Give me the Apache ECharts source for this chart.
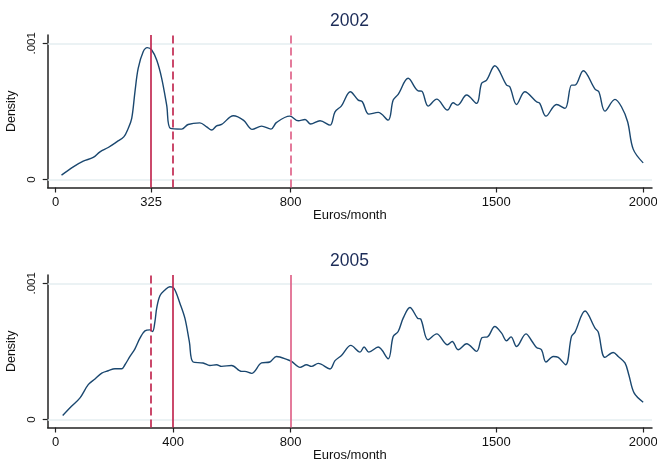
<!DOCTYPE html>
<html>
<head>
<meta charset="utf-8">
<script src="https://cdn.jsdelivr.net/npm/echarts@6/dist/echarts.min.js"></script>
<style>
html,body{margin:0;padding:0;background:#fff;}
#chart{width:657px;height:461px;}
</style>
</head>
<body>
<div id="chart"></div>
<script>
// ---- data ----
var panelTitles = ['2002', '2005'];
var xTicks2002 = [0, 325, 800, 1500, 2000];
var xTicks2005 = [0, 400, 800, 1500, 2000];
var yTicks = [0, 0.001];
var yTickLabels = ['0', '.001'];

var euros2002 = [20,60,94,128,151,179,208,232,247,259,270,281,298,312,327,344,361,378,391,429,451,491,514,531,548,565,605,640,669,701,733,752,797,826,849,868,900,934,951,973,1003,1030,1044,1066,1098,1132,1149,1166,1200,1234,1246,1268,1297,1334,1353,1368,1399,1433,1450,1467,1495,1535,1546,1569,1597,1637,1648,1669,1705,1734,1756,1768,1796,1836,1849,1870,1904,1926,1947,1966,2000];
var density2002 = [0.032e-3,0.093e-3,0.135e-3,0.162e-3,0.203e-3,0.235e-3,0.276e-3,0.313e-3,0.375e-3,0.449e-3,0.644e-3,0.816e-3,0.938e-3,0.968e-3,0.951e-3,0.877e-3,0.743e-3,0.546e-3,0.375e-3,0.370e-3,0.404e-3,0.416e-3,0.387e-3,0.363e-3,0.394e-3,0.404e-3,0.468e-3,0.434e-3,0.368e-3,0.392e-3,0.370e-3,0.419e-3,0.465e-3,0.431e-3,0.441e-3,0.407e-3,0.431e-3,0.399e-3,0.497e-3,0.541e-3,0.644e-3,0.583e-3,0.571e-3,0.480e-3,0.493e-3,0.436e-3,0.583e-3,0.625e-3,0.743e-3,0.651e-3,0.649e-3,0.539e-3,0.590e-3,0.510e-3,0.563e-3,0.546e-3,0.620e-3,0.559e-3,0.706e-3,0.730e-3,0.835e-3,0.693e-3,0.681e-3,0.551e-3,0.644e-3,0.571e-3,0.559e-3,0.465e-3,0.551e-3,0.522e-3,0.693e-3,0.693e-3,0.799e-3,0.664e-3,0.644e-3,0.502e-3,0.588e-3,0.534e-3,0.424e-3,0.223e-3,0.122e-3];

var euros2005 = [24,54,83,111,134,157,179,202,225,236,253,270,287,304,321,330,338,344,355,372,389,403,423,440,455,468,502,525,548,565,599,633,644,667,701,729,752,792,803,832,854,871,894,934,951,973,1005,1036,1050,1066,1098,1132,1149,1166,1183,1206,1232,1243,1268,1297,1334,1350,1370,1399,1433,1452,1470,1495,1518,1535,1550,1569,1601,1622,1637,1654,1669,1694,1711,1736,1756,1768,1802,1836,1847,1870,1898,1915,1938,1951,1969,2000];
var density2005 = [0.029e-3,0.097e-3,0.159e-3,0.256e-3,0.298e-3,0.341e-3,0.358e-3,0.373e-3,0.373e-3,0.402e-3,0.463e-3,0.519e-3,0.597e-3,0.651e-3,0.658e-3,0.646e-3,0.719e-3,0.817e-3,0.909e-3,0.951e-3,0.975e-3,0.963e-3,0.854e-3,0.744e-3,0.573e-3,0.422e-3,0.415e-3,0.397e-3,0.402e-3,0.390e-3,0.397e-3,0.353e-3,0.353e-3,0.339e-3,0.415e-3,0.422e-3,0.463e-3,0.437e-3,0.427e-3,0.383e-3,0.402e-3,0.390e-3,0.412e-3,0.371e-3,0.432e-3,0.470e-3,0.544e-3,0.495e-3,0.532e-3,0.495e-3,0.532e-3,0.446e-3,0.610e-3,0.646e-3,0.744e-3,0.822e-3,0.744e-3,0.737e-3,0.585e-3,0.629e-3,0.549e-3,0.573e-3,0.512e-3,0.556e-3,0.500e-3,0.602e-3,0.607e-3,0.683e-3,0.634e-3,0.578e-3,0.607e-3,0.536e-3,0.629e-3,0.573e-3,0.529e-3,0.512e-3,0.422e-3,0.463e-3,0.456e-3,0.402e-3,0.610e-3,0.642e-3,0.797e-3,0.671e-3,0.642e-3,0.456e-3,0.492e-3,0.463e-3,0.415e-3,0.329e-3,0.195e-3,0.127e-3];

// reference lines (euros/month)
var solid2002 = [325];
var dashed2002 = [400];
var dashedLight2002 = [800];
var solid2005 = [400];
var dashed2005 = [325];
var solidLight2005 = [800];

// ---- build ----
function pairs(xs, ys) { return xs.map(function (x, i) { return [x, ys[i]]; }); }

var DARK = '#c22a52', LIGHT = '#e0648a', GRIDC = '#e4eef1';
function vlines(vals, color, dashed) {
  return vals.map(function (v) {
    return { xAxis: v, lineStyle: { color: color, width: 1.7, type: dashed ? [8, 4] : 'solid' } };
  });
}

var FONT = 'Liberation Sans, Arial, sans-serif';
var tops = [35, 275];
var gridH = 152.5;
var X_MIN = -27, X_MAX = 2030;

function xAxisFor(i, ticks) {
  return {
    type: 'value', gridIndex: i, min: X_MIN, max: X_MAX,
    name: 'Euros/month', nameLocation: 'middle', nameGap: 21,
    nameTextStyle: { color: '#111', fontSize: 13, fontFamily: FONT },
    axisLine: { show: true, onZero: false, lineStyle: { color: '#222', width: 1.5 } },
    axisTick: { show: true, length: 5, customValues: ticks, lineStyle: { color: '#222', width: 1.2 } },
    axisLabel: { show: true, customValues: ticks, margin: 8, color: '#111', fontSize: 13, fontFamily: FONT,
      showMinLabel: true, showMaxLabel: true, hideOverlap: false,
      formatter: function (v) { return String(Math.round(v)); } },
    splitLine: { show: false }
  };
}
function yAxisFor(i) {
  return {
    type: 'value', gridIndex: i, min: -0.0588e-3, max: 1.061e-3,
    name: 'Density', nameLocation: 'middle', nameGap: 24, nameRotate: 90,
    nameTextStyle: { color: '#111', fontSize: 12.5, fontFamily: FONT },
    axisLine: { show: true, onZero: false, lineStyle: { color: '#222', width: 1.5 } },
    axisTick: { show: true, length: 5, customValues: yTicks, lineStyle: { color: '#222', width: 1.2 } },
    axisLabel: { show: true, customValues: yTicks, rotate: 90, margin: 10, color: '#111', fontSize: 11.5, fontFamily: FONT,
      formatter: function (v) { return Math.abs(v) < 1e-9 ? yTickLabels[0] : yTickLabels[1]; } },
    splitLine: { show: false }
  };
}
function seriesFor(i, xs, ys, marks) {
  return {
    type: 'line', xAxisIndex: i, yAxisIndex: i, data: pairs(xs, ys),
    smooth: 0.35, showSymbol: false, symbol: 'none',
    lineStyle: { color: '#1a476f', width: 1.4 },
    markLine: { silent: true, symbol: ['none', 'none'], label: { show: false }, animation: false,
      data: marks },
    animation: false, z: 3
  };
}
// horizontal gridlines at the y tick values
function gridSeries(i) {
  return {
    type: 'line', xAxisIndex: i, yAxisIndex: i, data: [], silent: true, z: 1,
    markLine: { silent: true, symbol: ['none', 'none'], label: { show: false }, animation: false,
      data: yTicks.map(function (v) { return [{ coord: [X_MIN, v] }, { coord: [X_MAX, v] }]; }),
      lineStyle: { color: GRIDC, width: 1.5, type: 'solid' } }
  };
}

var option = {
  backgroundColor: '#ffffff',
  animation: false,
  title: panelTitles.map(function (t, i) {
    return { text: t, left: 330, top: tops[i] - 23, padding: 0,
      textStyle: { color: '#1c2c58', fontSize: 17.5, fontWeight: 'normal', fontFamily: FONT } };
  }),
  grid: tops.map(function (t) {
    return { left: 47.7, top: t, width: 604.3, height: gridH, containLabel: false, outerBoundsMode: 'none' };
  }),
  xAxis: [xAxisFor(0, xTicks2002), xAxisFor(1, xTicks2005)],
  yAxis: [yAxisFor(0), yAxisFor(1)],
  series: [
    gridSeries(0), gridSeries(1),
    seriesFor(0, euros2002, density2002,
      vlines(solid2002, DARK, false).concat(vlines(dashed2002, DARK, true), vlines(dashedLight2002, LIGHT, true))),
    seriesFor(1, euros2005, density2005,
      vlines(dashed2005, DARK, true).concat(vlines(solid2005, DARK, false), vlines(solidLight2005, LIGHT, false)))
  ]
};
var chart = echarts.init(document.getElementById('chart'), null, { renderer: 'canvas' });
chart.setOption(option);
</script>
</body>
</html>
